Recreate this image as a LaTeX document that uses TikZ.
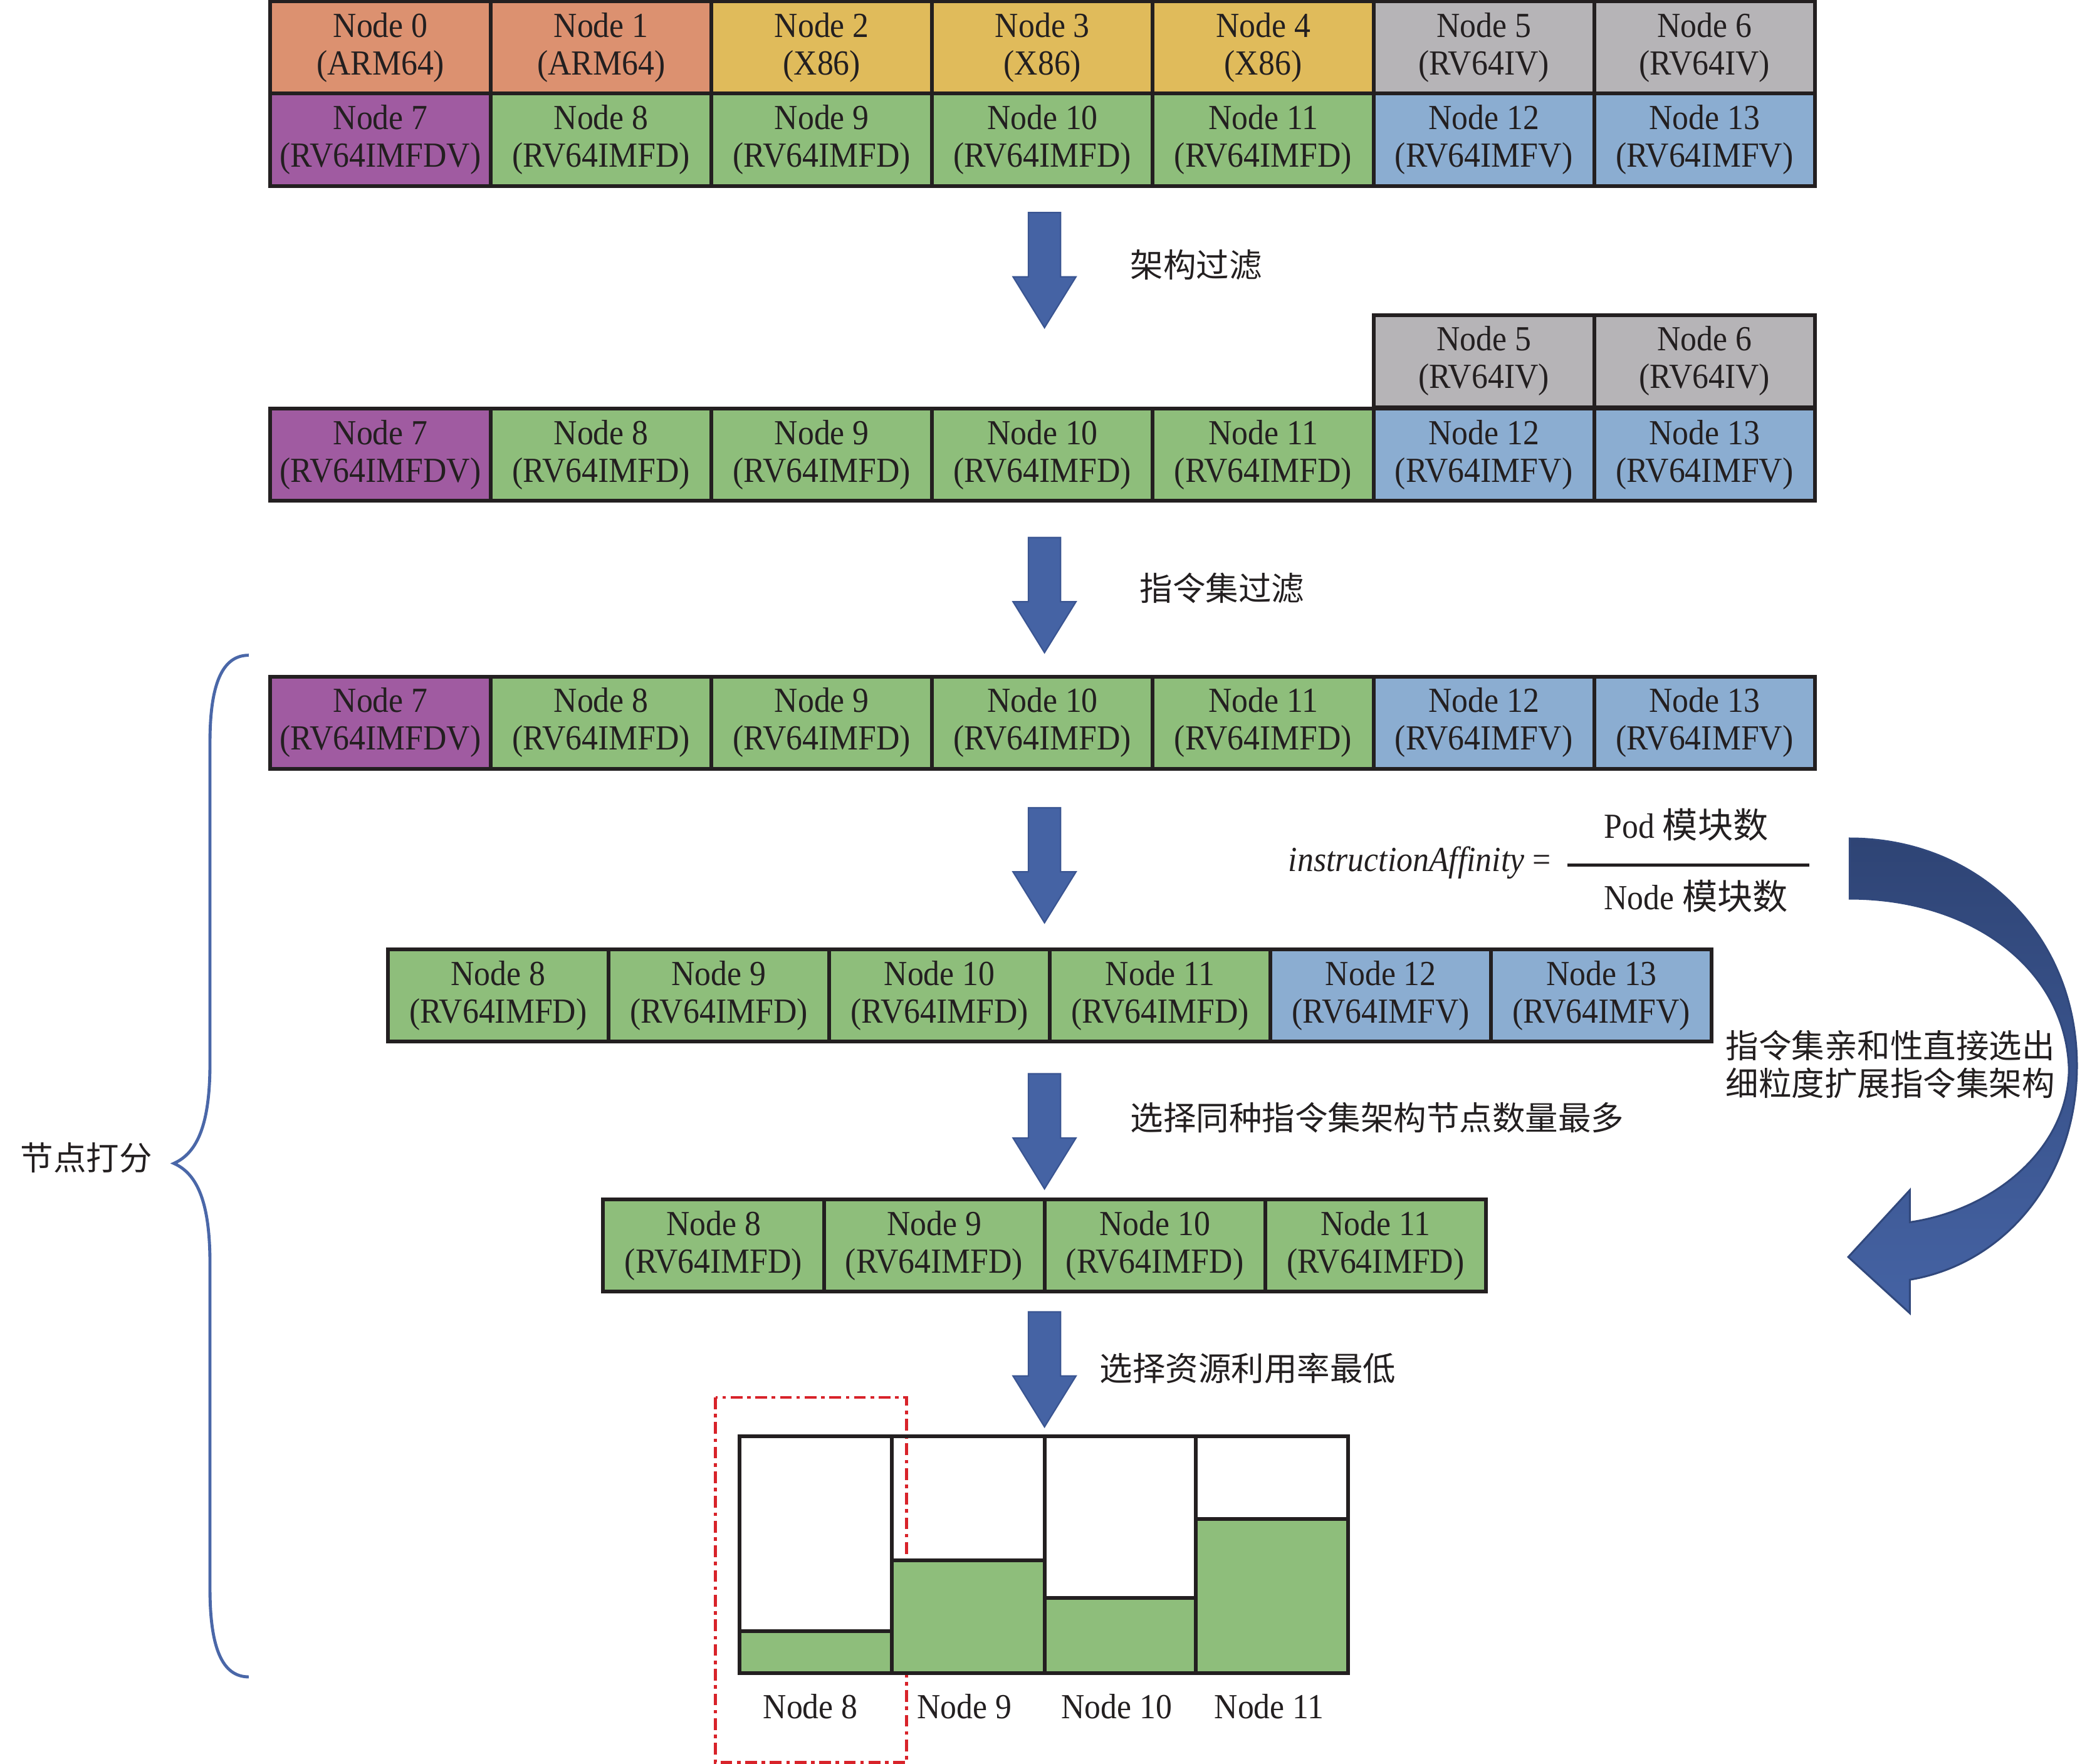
\documentclass[tikz,border=0pt]{standalone}
\usepackage{fontspec}
\setmainfont{Liberation Serif}[FakeStretch=0.92]
\newfontfamily\cjk{Noto Sans CJK SC}

\definecolor{boxline}{HTML}{231F20}
\definecolor{armc}{HTML}{DC9170}
\definecolor{xc}{HTML}{E0BB5B}
\definecolor{ivc}{HTML}{B6B4B7}
\definecolor{fdvc}{HTML}{A05BA1}
\definecolor{fdc}{HTML}{8EBE7B}
\definecolor{fvc}{HTML}{8BADD1}
\definecolor{flowc}{HTML}{4563A4}
\definecolor{flowedge}{HTML}{3A5592}
\definecolor{bracec}{HTML}{4A67A8}
\definecolor{pickc}{HTML}{D8232A}

\tikzset{
  cell/.style={draw=boxline, line width=1.6pt, minimum width=33mm, minimum height=13.8mm,
    inner sep=0pt, align=center, text=boxline, font=\fontsize{15}{16}\selectfont},
  arm/.style={cell, fill=armc},
  xs/.style={cell, fill=xc},
  iv/.style={cell, fill=ivc},
  fdv/.style={cell, fill=fdvc},
  fd/.style={cell, fill=fdc},
  fv/.style={cell, fill=fvc},
  note/.style={font=\cjk\fontsize{14}{16}\selectfont, text=boxline, inner sep=0pt, anchor=west},
  flow/.style={fill=flowc, draw=flowedge, line width=0.6pt},
  barline/.style={draw=boxline, line width=1.6pt},
  barlabel/.style={font=\fontsize{15}{16}\selectfont, text=boxline, inner sep=0pt},
}

% block arrow pointing down, #1 = x of centre, #2 = y of top
\newcommand{\flowdown}[2]{\draw[flow] (#1,#2) ++(-12,0) -- ++(24,0) -- ++(0,48)
  -- ++(11.5,0) -- ++(-23.5,38) -- ++(-23.5,-38) -- ++(11.5,0) -- cycle;}

\begin{document}
\begin{tikzpicture}[x=0.2mm,y=-0.2mm]
\useasboundingbox (0,0) rectangle (1568,1319);

% all nodes
\node[arm] (a0) at (284.5,35.5) {Node 0\\(ARM64)};
\node[arm] (a1) at (449.5,35.5) {Node 1\\(ARM64)};
\node[xs] (a2) at (614.5,35.5) {Node 2\\(X86)};
\node[xs] (a3) at (779.5,35.5) {Node 3\\(X86)};
\node[xs] (a4) at (944.5,35.5) {Node 4\\(X86)};
\node[iv] (a5) at (1109.5,35.5) {Node 5\\(RV64IV)};
\node[iv] (a6) at (1274.5,35.5) {Node 6\\(RV64IV)};
\node[fdv] (a7) at (284.5,104.5) {Node 7\\(RV64IMFDV)};
\node[fd] (a8) at (449.5,104.5) {Node 8\\(RV64IMFD)};
\node[fd] (a9) at (614.5,104.5) {Node 9\\(RV64IMFD)};
\node[fd] (a10) at (779.5,104.5) {Node 10\\(RV64IMFD)};
\node[fd] (a11) at (944.5,104.5) {Node 11\\(RV64IMFD)};
\node[fv] (a12) at (1109.5,104.5) {Node 12\\(RV64IMFV)};
\node[fv] (a13) at (1274.5,104.5) {Node 13\\(RV64IMFV)};

\flowdown{781}{159}
\node[note] (archtxt) at (845,198) {架构过滤};

% after arch filter
\node[iv] (b5) at (1109.5,270) {Node 5\\(RV64IV)};
\node[iv] (b6) at (1274.5,270) {Node 6\\(RV64IV)};
\node[fdv] (b7) at (284.5,340) {Node 7\\(RV64IMFDV)};
\node[fd] (b8) at (449.5,340) {Node 8\\(RV64IMFD)};
\node[fd] (b9) at (614.5,340) {Node 9\\(RV64IMFD)};
\node[fd] (b10) at (779.5,340) {Node 10\\(RV64IMFD)};
\node[fd] (b11) at (944.5,340) {Node 11\\(RV64IMFD)};
\node[fv] (b12) at (1109.5,340) {Node 12\\(RV64IMFV)};
\node[fv] (b13) at (1274.5,340) {Node 13\\(RV64IMFV)};

\flowdown{781}{402}
\node[note] (isatxt) at (852,440) {指令集过滤};

% after isa filter
\node[fdv] (c7) at (284.5,540.5) {Node 7\\(RV64IMFDV)};
\node[fd] (c8) at (449.5,540.5) {Node 8\\(RV64IMFD)};
\node[fd] (c9) at (614.5,540.5) {Node 9\\(RV64IMFD)};
\node[fd] (c10) at (779.5,540.5) {Node 10\\(RV64IMFD)};
\node[fd] (c11) at (944.5,540.5) {Node 11\\(RV64IMFD)};
\node[fv] (c12) at (1109.5,540.5) {Node 12\\(RV64IMFV)};
\node[fv] (c13) at (1274.5,540.5) {Node 13\\(RV64IMFV)};

\flowdown{781}{604}
\node[barlabel, anchor=east] (lhs) at (1160,645) {\textit{instructionAffinity} =};
\node[barlabel, anchor=west] (num) at (1199,617) {Pod {\cjk 模块数}};
\node[barlabel, anchor=west] (den) at (1199,670) {Node {\cjk 模块数}};
\draw[boxline, line width=1.5pt] (1172,647) -- (1353,647);

\node[fd] (d8) at (372.5,744.5) {Node 8\\(RV64IMFD)};
\node[fd] (d9) at (537.5,744.5) {Node 9\\(RV64IMFD)};
\node[fd] (d10) at (702.5,744.5) {Node 10\\(RV64IMFD)};
\node[fd] (d11) at (867.5,744.5) {Node 11\\(RV64IMFD)};
\node[fv] (d12) at (1032.5,744.5) {Node 12\\(RV64IMFV)};
\node[fv] (d13) at (1197.5,744.5) {Node 13\\(RV64IMFV)};

\flowdown{781}{803}
\node[note] (sametxt) at (845,836) {选择同种指令集架构节点数量最多};

\node[fd] (e8) at (533.5,931.5) {Node 8\\(RV64IMFD)};
\node[fd] (e9) at (698.5,931.5) {Node 9\\(RV64IMFD)};
\node[fd] (e10) at (863.5,931.5) {Node 10\\(RV64IMFD)};
\node[fd] (e11) at (1028.5,931.5) {Node 11\\(RV64IMFD)};

\flowdown{781}{981}
\node[note] (usetxt) at (822,1023) {选择资源利用率最低};

% picked node
\draw[pickc, line width=1.3pt, dash pattern=on 5pt off 2pt on 1.5pt off 2pt] (535,1045) rectangle (678,1318);

% resource bars
\filldraw[barline, fill=fdc] (553,1220) rectangle (667,1251);
\filldraw[barline, fill=fdc] (667,1167) rectangle (781,1251);
\filldraw[barline, fill=fdc] (781,1195) rectangle (894,1251);
\filldraw[barline, fill=fdc] (894,1136) rectangle (1008,1251);
\draw[barline] (553,1074) rectangle (1008,1251);
\draw[barline] (667,1074) -- (667,1251);
\draw[barline] (781,1074) -- (781,1251);
\draw[barline] (894,1074) -- (894,1251);
\node[barlabel] (u8) at (606,1276) {Node 8};
\node[barlabel] (u9) at (721,1276) {Node 9};
\node[barlabel] (u10) at (835,1276) {Node 10};
\node[barlabel] (u11) at (949,1276) {Node 11};

% scoring brace
\draw[bracec, line width=1.3pt] (186,490) .. controls (166,490) and (157,512) .. (157,555)
  -- (157,795) .. controls (157,840) and (148,862) .. (130,870)
  .. controls (148,878) and (157,900) .. (157,945)
  -- (157,1188) .. controls (157,1232) and (166,1254) .. (186,1254);
\node[note] (scoretxt) at (15,866) {节点打分};

% curved arrow back
\draw[draw=flowedge!85!black, line width=0.8pt, top color=flowedge!80!black, bottom color=flowc]
  (1383,627) .. controls (1480,627) and (1553,700) .. (1553,797)
  .. controls (1553,880) and (1500,945) .. (1428,957)
  -- (1428,982) -- (1382,940) -- (1428,890) -- (1428,914)
  .. controls (1490,905) and (1546,860) .. (1547,800)
  .. controls (1545,725) and (1475,672) .. (1383,672) -- cycle;
\node[note, align=left] (affinitytxt) at (1290,796) {指令集亲和性直接选出\\细粒度扩展指令集架构};
\end{tikzpicture}
\end{document}
